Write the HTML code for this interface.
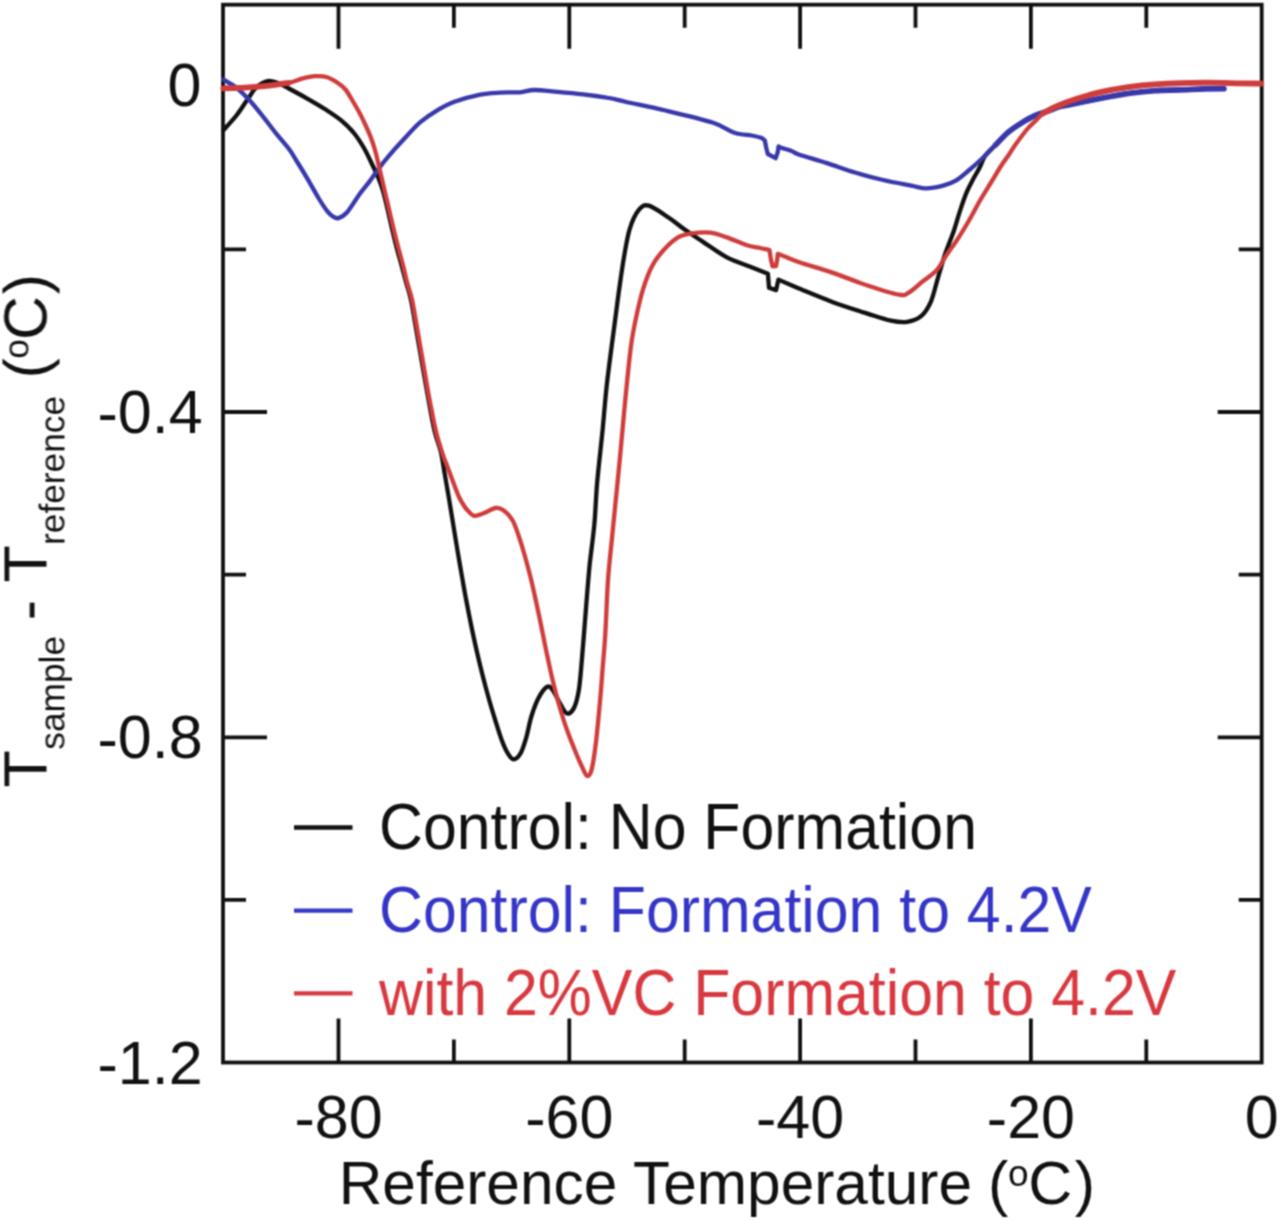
<!DOCTYPE html>
<html><head><meta charset="utf-8"><style>
html,body{margin:0;padding:0;background:#fff;}
svg{display:block;}

text{font-family:"Liberation Sans",sans-serif;}
</style></head><body>
<svg width="1280" height="1221" viewBox="0 0 1280 1221">
<defs><filter id="b" x="0" y="0" width="1280" height="1221" filterUnits="userSpaceOnUse" color-interpolation-filters="sRGB"><feConvolveMatrix order="3" kernelMatrix="1 2 1 2 4 2 1 2 1" divisor="16" edgeMode="duplicate"/></filter></defs>
<rect width="1280" height="1221" fill="#fff"/>
<g filter="url(#b)">

<g fill="none" stroke="#111" stroke-width="3.8">
<rect x="223.0" y="4.7" width="1038.7" height="1057.8"/>
<path d="M338.5,4.7V48.7 M338.5,1062.5V1018.5 M453.9,4.7V27.7 M453.9,1062.5V1039.5 M569.3,4.7V48.7 M569.3,1062.5V1018.5 M684.7,4.7V27.7 M684.7,1062.5V1039.5 M800.1,4.7V48.7 M800.1,1062.5V1018.5 M915.5,4.7V27.7 M915.5,1062.5V1039.5 M1030.9,4.7V48.7 M1030.9,1062.5V1018.5 M1146.3,4.7V27.7 M1146.3,1062.5V1039.5 M223.0,249.3H246.0 M1261.7,249.3H1238.7 M223.0,412.0H267.0 M1261.7,412.0H1217.7 M223.0,574.6H246.0 M1261.7,574.6H1238.7 M223.0,737.3H267.0 M1261.7,737.3H1217.7 M223.0,899.9H246.0 M1261.7,899.9H1238.7"/>
</g>
<g fill="none" stroke-linejoin="round" stroke-linecap="round" stroke-width="4.3">
<path stroke="#111" d="M223.3,130.3 C225.5,127.8 232.3,120.7 236.4,115.5 C240.5,110.3 244.5,103.7 247.8,99.1 C251.1,94.5 252.7,90.7 256.0,87.7 C259.3,84.7 263.9,81.9 267.5,81.1 C271.1,80.3 273.8,81.6 277.3,82.8 C280.9,84.0 283.9,85.9 288.8,88.5 C293.7,91.1 300.8,94.9 306.8,98.3 C312.8,101.7 319.1,105.3 324.8,109.0 C330.5,112.7 336.3,116.3 341.2,120.4 C346.1,124.5 350.5,128.8 354.3,133.5 C358.1,138.2 361.1,143.1 364.1,148.3 C367.1,153.5 369.9,159.8 372.3,164.7 C374.7,169.6 376.6,173.6 378.4,178.0 C380.2,182.4 381.5,185.8 383.0,191.0 C384.5,196.2 386.1,203.0 387.6,209.3 C389.1,215.6 390.5,222.2 392.1,229.0 C393.7,235.8 395.9,244.7 397.3,250.0 C398.7,255.3 398.8,255.2 400.3,260.6 C401.8,266.1 404.4,276.1 406.2,282.7 C408.0,289.3 409.2,291.6 411.0,300.0 C412.8,308.4 414.9,321.9 416.8,332.8 C418.7,343.7 420.6,354.7 422.5,365.6 C424.4,376.5 426.3,387.5 428.3,398.4 C430.3,409.3 432.5,422.2 434.6,431.1 C436.7,440.0 439.2,444.7 440.9,452.0 C442.6,459.3 443.5,467.0 444.9,475.0 C446.3,483.0 447.8,491.7 449.2,500.0 C450.6,508.3 451.9,516.7 453.3,525.0 C454.7,533.3 456.0,541.7 457.4,550.0 C458.8,558.3 460.2,566.7 461.7,575.0 C463.2,583.3 464.6,591.7 466.2,600.0 C467.8,608.3 469.4,616.7 471.1,625.0 C472.8,633.3 474.6,641.7 476.5,650.0 C478.4,658.3 480.4,666.7 482.5,675.0 C484.6,683.3 487.1,692.5 489.2,700.0 C491.3,707.5 493.1,713.3 495.2,720.0 C497.3,726.7 499.7,734.6 501.7,740.0 C503.7,745.4 505.4,749.3 507.3,752.5 C509.2,755.7 511.2,759.1 513.4,759.3 C515.6,759.5 518.3,757.2 520.4,753.7 C522.5,750.2 524.1,744.7 526.0,738.4 C527.9,732.1 529.4,722.7 531.5,716.0 C533.6,709.3 535.9,702.9 538.5,698.0 C541.1,693.1 544.6,688.3 546.9,686.9 C549.2,685.5 550.3,687.0 552.4,689.6 C554.5,692.2 557.3,698.5 559.4,702.2 C561.5,705.9 563.3,710.0 565.0,711.9 C566.7,713.8 567.8,714.2 569.4,713.3 C571.0,712.4 573.1,710.3 574.7,706.4 C576.3,702.5 577.7,697.0 578.9,689.6 C580.1,682.2 580.8,671.7 581.7,661.8 C582.6,651.9 583.4,640.6 584.3,630.0 C585.1,619.4 585.9,609.0 586.8,598.0 C587.7,587.0 588.5,576.5 589.7,564.3 C591.0,552.1 593.1,538.0 594.3,524.9 C595.5,511.8 596.0,496.5 596.9,485.6 C597.8,474.7 598.5,468.6 599.5,459.3 C600.5,450.0 601.4,442.1 602.6,430.0 C603.8,417.9 605.1,400.5 606.6,386.7 C608.1,372.9 610.0,358.9 611.5,347.4 C613.0,335.9 614.1,327.7 615.4,317.9 C616.7,308.1 617.9,298.2 619.3,288.4 C620.7,278.6 622.0,268.8 623.7,258.9 C625.4,249.0 627.1,237.5 629.6,229.3 C632.1,221.1 635.8,213.6 639.0,209.7 C642.2,205.8 644.0,204.4 648.9,205.7 C653.8,207.0 662.6,213.6 668.5,217.5 C674.4,221.4 678.5,225.2 684.3,229.3 C690.1,233.4 696.3,237.4 703.4,242.1 C710.5,246.8 719.1,253.2 726.9,257.3 C734.7,261.4 743.5,264.0 750.3,266.7 C757.1,269.4 765.0,272.5 767.9,273.7 L769.0,287.8 L776.1,290.1 L778.4,279.6 L797.2,287.8 C803.1,290.1 820.6,297.6 832.3,301.9 C844.0,306.2 857.7,310.5 867.5,313.6 C877.3,316.7 884.3,319.2 890.9,320.6 C897.5,322.0 902.2,322.6 907.3,321.8 C912.4,321.0 917.5,319.2 921.4,315.9 C925.3,312.6 928.1,308.1 930.8,301.9 C933.5,295.6 935.5,286.2 937.8,278.4 C940.1,270.6 942.2,262.8 944.8,255.0 C947.4,247.2 951.0,238.9 953.6,231.5 C956.2,224.1 957.9,217.2 960.1,210.6 C962.3,204.0 964.5,197.4 966.7,192.2 C968.9,186.9 971.0,183.2 973.2,179.1 C975.4,174.9 977.8,171.2 979.8,167.3 C981.8,163.5 982.4,159.7 985.0,156.0 C987.6,152.3 991.6,149.0 995.5,145.0 C999.4,141.0 1004.2,135.6 1008.6,131.9 C1013.0,128.2 1017.3,125.5 1021.7,122.8 C1026.1,120.1 1030.4,117.6 1034.8,115.6 C1039.2,113.6 1043.6,112.5 1048.0,111.0 C1052.4,109.5 1055.7,107.8 1061.0,106.4 C1066.3,105.0 1072.7,104.1 1080.0,102.6 C1087.3,101.1 1096.7,99.2 1105.0,97.6 C1113.3,96.0 1121.7,94.3 1130.0,93.2 C1138.3,92.1 1146.7,91.2 1155.0,90.7 C1163.3,90.2 1171.7,90.2 1180.0,89.9 C1188.3,89.6 1198.0,89.1 1205.0,88.9 C1212.0,88.7 1219.2,88.7 1222.0,88.7"/>
<path stroke="#3838ab" d="M223.3,79.5 C225.5,80.9 232.2,84.5 236.4,87.7 C240.6,91.0 244.3,94.6 248.4,99.0 C252.5,103.4 256.6,108.5 261.1,114.1 C265.6,119.6 270.5,126.5 275.2,132.3 C279.9,138.2 285.7,144.5 289.2,149.2 C292.7,153.9 293.2,155.6 296.3,160.5 C299.4,165.4 303.8,172.5 307.5,178.8 C311.2,185.1 315.5,193.1 318.8,198.5 C322.1,203.9 324.8,208.1 327.2,211.1 C329.6,214.1 331.1,215.3 333.0,216.5 C334.9,217.7 336.2,218.8 338.5,218.1 C340.8,217.4 343.4,216.5 346.9,212.5 C350.4,208.5 355.8,199.3 359.5,194.2 C363.2,189.0 365.9,186.3 369.4,181.6 C372.9,176.9 376.4,171.5 380.6,166.1 C384.8,160.7 390.0,154.6 394.7,149.2 C399.4,143.8 404.6,138.3 408.8,133.8 C413.0,129.3 415.3,126.3 420.0,122.4 C424.7,118.5 431.5,113.8 437.2,110.4 C442.9,107.0 447.2,104.4 454.4,101.8 C461.6,99.2 472.6,96.1 480.2,94.6 C487.8,93.1 493.4,93.0 500.0,92.6 C506.6,92.2 514.3,92.7 520.0,92.3 C525.7,91.9 527.8,90.1 534.0,90.0 C540.2,89.9 549.3,91.1 557.5,91.8 C565.7,92.5 574.7,93.3 583.3,94.3 C591.9,95.3 601.8,96.7 609.0,98.0 C616.2,99.3 616.9,99.9 626.3,102.0 C635.7,104.1 651.2,107.1 665.6,110.5 C680.0,113.9 701.0,118.8 712.5,122.5 C724.0,126.2 727.9,130.6 734.4,132.8 C740.9,135.0 747.2,134.7 751.7,135.5 C756.2,136.3 758.9,137.0 761.1,137.8 C763.3,138.6 764.2,140.1 764.8,140.5 L766.3,148.0 L767.8,154.0 L775.6,158.2 L777.8,152.0 L778.5,146.5 L782.2,148.1 C783.8,148.6 788.8,149.8 791.6,150.9 C794.4,152.0 792.9,152.5 798.8,154.5 C804.7,156.5 817.5,160.1 826.9,163.1 C836.3,166.1 845.6,169.7 855.0,172.5 C864.4,175.3 873.7,177.8 883.1,180.0 C892.5,182.2 904.1,184.2 911.3,185.6 C918.5,187.0 921.0,188.4 926.3,188.4 C931.6,188.4 938.1,187.0 943.1,185.7 C948.1,184.4 951.8,183.0 956.2,180.4 C960.6,177.8 964.9,173.7 969.3,170.0 C973.7,166.3 978.0,162.4 982.4,158.2 C986.8,154.0 991.1,149.4 995.5,145.0 C999.9,140.6 1004.2,135.6 1008.6,131.9 C1013.0,128.2 1017.3,125.5 1021.7,122.8 C1026.1,120.1 1030.4,117.6 1034.8,115.6 C1039.2,113.6 1043.6,112.5 1048.0,111.0 C1052.4,109.5 1055.7,107.8 1061.0,106.4 C1066.3,105.0 1072.7,104.1 1080.0,102.6 C1087.3,101.1 1096.7,99.2 1105.0,97.6 C1113.3,96.0 1121.7,94.3 1130.0,93.2 C1138.3,92.1 1146.7,91.2 1155.0,90.7 C1163.3,90.2 1171.7,90.2 1180.0,89.9 C1188.3,89.6 1197.7,89.1 1205.0,88.9 C1212.3,88.7 1220.8,88.7 1224.0,88.7"/>
<path stroke="#3838ab" stroke-width="5.6" d="M995.5,145.0 C997.7,142.8 1004.2,135.6 1008.6,131.9 C1013.0,128.2 1017.3,125.5 1021.7,122.8 C1026.1,120.1 1030.4,117.6 1034.8,115.6 C1039.2,113.6 1043.6,112.5 1048.0,111.0 C1052.4,109.5 1055.7,107.8 1061.0,106.4 C1066.3,105.0 1072.7,104.1 1080.0,102.6 C1087.3,101.1 1096.7,99.2 1105.0,97.6 C1113.3,96.0 1121.7,94.3 1130.0,93.2 C1138.3,92.1 1146.7,91.2 1155.0,90.7 C1163.3,90.2 1171.7,90.2 1180.0,89.9 C1188.3,89.6 1197.7,89.1 1205.0,88.9 C1212.3,88.7 1220.8,88.7 1224.0,88.7"/>
<path stroke="#cf3c3c" d="M223.3,88.3 C226.9,88.2 237.0,88.0 244.6,87.6 C252.2,87.1 261.7,86.4 269.1,85.6 C276.5,84.8 283.3,83.9 288.8,82.8 C294.3,81.7 297.5,79.8 301.9,78.7 C306.3,77.6 310.9,76.5 315.0,76.2 C319.1,75.9 322.8,75.9 326.5,77.0 C330.2,78.1 334.3,80.6 337.5,82.7 C340.7,84.8 343.2,86.8 345.5,89.5 C347.8,92.2 349.3,95.4 351.5,99.0 C353.7,102.6 356.2,106.8 358.5,111.0 C360.8,115.2 363.0,119.7 365.0,124.0 C367.0,128.3 368.8,132.3 370.5,136.6 C372.2,140.9 373.4,144.4 375.0,150.0 C376.6,155.6 378.2,163.4 379.8,170.0 C381.4,176.6 382.9,183.1 384.4,189.7 C385.9,196.2 387.5,202.8 389.0,209.3 C390.5,215.9 392.0,222.2 393.6,229.0 C395.2,235.8 397.3,243.8 398.9,250.0 C400.5,256.2 401.8,260.6 403.2,266.0 C404.6,271.4 405.7,277.0 407.2,282.7 C408.7,288.4 410.3,291.6 412.1,300.0 C413.9,308.4 416.0,321.9 417.9,332.8 C419.8,343.7 421.7,354.7 423.6,365.6 C425.5,376.5 427.2,387.5 429.3,398.4 C431.4,409.3 433.7,421.8 435.9,431.1 C438.1,440.4 440.8,448.4 442.6,454.0 C444.4,459.6 445.3,461.1 446.6,464.6 C447.9,468.1 449.2,471.4 450.5,475.0 C451.8,478.6 453.2,482.2 454.6,485.9 C456.0,489.6 457.5,493.8 459.0,497.0 C460.5,500.2 462.1,502.8 463.5,505.0 C464.9,507.2 465.9,508.7 467.7,510.5 C469.5,512.3 471.6,515.4 474.3,515.8 C477.0,516.2 480.6,514.3 484.1,513.0 C487.7,511.7 492.3,508.4 495.6,508.0 C498.9,507.6 501.0,508.5 503.8,510.5 C506.6,512.5 510.0,515.9 512.4,520.0 C514.8,524.1 516.4,529.2 518.4,535.0 C520.4,540.8 522.5,547.5 524.6,555.0 C526.7,562.5 529.2,571.7 531.2,580.0 C533.2,588.3 535.0,596.7 536.8,605.0 C538.6,613.3 540.3,621.7 542.0,630.0 C543.7,638.3 545.3,646.7 547.1,655.0 C548.9,663.3 550.6,671.7 552.6,680.0 C554.6,688.3 556.7,696.7 559.1,705.0 C561.5,713.3 564.0,721.7 567.0,730.0 C570.0,738.3 574.2,748.7 576.8,755.0 C579.4,761.3 580.9,764.5 582.6,768.0 C584.3,771.5 585.7,775.6 587.2,776.0 C588.7,776.4 590.0,775.5 591.4,770.4 C592.8,765.3 594.2,756.4 595.6,745.3 C597.0,734.2 598.6,716.4 599.8,703.6 C601.0,690.8 601.7,680.3 602.6,668.7 C603.5,657.1 604.4,648.7 605.3,633.9 C606.2,619.1 606.9,596.0 608.0,580.0 C609.1,564.0 610.7,551.5 612.0,538.0 C613.3,524.5 614.6,511.8 615.9,498.7 C617.2,485.6 618.7,470.8 619.8,459.3 C620.9,447.9 621.5,440.4 622.5,430.0 C623.5,419.6 624.2,410.4 625.6,396.6 C627.0,382.8 629.1,360.5 630.8,347.4 C632.5,334.3 633.9,327.7 636.0,317.9 C638.1,308.1 640.5,297.2 643.3,288.4 C646.1,279.5 649.2,271.4 652.8,264.8 C656.3,258.2 660.3,253.6 664.6,249.0 C668.9,244.4 673.8,239.8 678.4,237.2 C683.0,234.6 686.8,234.1 692.1,233.3 C697.5,232.6 704.7,232.0 710.5,232.7 C716.3,233.4 720.9,235.3 726.9,237.4 C732.9,239.5 740.7,243.2 746.2,245.0 C751.8,246.8 756.1,247.2 760.0,248.0 C763.9,248.8 767.9,249.7 769.5,250.0 L770.8,259.0 L772.5,266.3 L776.0,266.0 L777.3,259.0 L777.8,253.8 L786.0,257.0 C788.3,257.9 792.3,259.9 800.0,262.5 C807.7,265.1 821.0,268.8 832.3,272.6 C843.5,276.4 856.4,281.8 867.5,285.5 C878.6,289.2 892.1,293.5 899.0,294.7 C905.9,295.9 904.8,294.8 908.7,292.6 C912.7,290.4 918.1,285.1 922.7,281.4 C927.4,277.7 932.8,274.4 936.6,270.3 C940.4,266.2 942.0,261.7 945.5,256.5 C949.0,251.3 953.5,245.4 957.5,239.3 C961.5,233.2 965.5,226.5 969.3,220.0 C973.0,213.5 976.4,206.8 980.0,200.5 C983.6,194.2 987.5,188.2 991.0,182.5 C994.5,176.8 998.2,170.4 1001.0,166.0 C1003.8,161.6 1005.6,159.5 1008.0,156.0 C1010.4,152.5 1012.0,149.5 1015.2,145.0 C1018.4,140.5 1024.0,133.0 1027.3,129.0 C1030.6,125.0 1032.6,123.8 1035.2,121.2 C1037.8,118.7 1039.8,115.7 1043.0,113.4 C1046.2,111.1 1050.2,109.3 1054.7,107.2 C1059.2,105.1 1065.1,102.9 1070.3,101.0 C1075.5,99.1 1080.2,97.6 1086.0,96.0 C1091.8,94.4 1097.7,92.8 1105.0,91.2 C1112.3,89.7 1121.7,88.0 1130.0,86.9 C1138.3,85.8 1146.7,85.0 1155.0,84.4 C1163.3,83.8 1171.7,83.4 1180.0,83.1 C1188.3,82.8 1195.0,82.6 1205.0,82.6 C1215.0,82.6 1230.6,83.1 1240.0,83.3 C1249.4,83.5 1257.8,83.5 1261.3,83.6"/>
<path stroke="#cf3c3c" stroke-width="5.8" d="M223.3,88.3 C226.9,88.2 237.0,88.0 244.6,87.6 C252.2,87.1 261.7,86.4 269.1,85.6 C276.5,84.8 285.5,83.3 288.8,82.8 M1043.0,113.4 C1045.0,112.4 1050.2,109.3 1054.7,107.2 C1059.2,105.1 1065.1,102.9 1070.3,101.0 C1075.5,99.1 1080.2,97.6 1086.0,96.0 C1091.8,94.4 1097.7,92.8 1105.0,91.2 C1112.3,89.7 1121.7,88.0 1130.0,86.9 C1138.3,85.8 1146.7,85.0 1155.0,84.4 C1163.3,83.8 1171.7,83.4 1180.0,83.1 C1188.3,82.8 1195.0,82.6 1205.0,82.6 C1215.0,82.6 1230.6,83.1 1240.0,83.3 C1249.4,83.5 1257.8,83.5 1261.3,83.6"/>
</g>
<g font-size="61" fill="#111"><text x="167.5" y="106.2">0</text><text x="97.5" y="433.0"><tspan dy="1.2">-</tspan><tspan dy="-1.2">0.4</tspan></text><text x="97.5" y="758.3"><tspan dy="1.2">-</tspan><tspan dy="-1.2">0.8</tspan></text><text x="97.5" y="1083.5"><tspan dy="1.2">-</tspan><tspan dy="-1.2">1.2</tspan></text><text x="338.5" y="1138" text-anchor="middle"><tspan dy="1.2">-</tspan><tspan dy="-1.2">80</tspan></text><text x="569.3" y="1138" text-anchor="middle"><tspan dy="1.2">-</tspan><tspan dy="-1.2">60</tspan></text><text x="800.1" y="1138" text-anchor="middle"><tspan dy="1.2">-</tspan><tspan dy="-1.2">40</tspan></text><text x="1030.9" y="1138" text-anchor="middle"><tspan dy="1.2">-</tspan><tspan dy="-1.2">20</tspan></text><text x="1261.7" y="1138" text-anchor="middle">0</text></g>
<g font-size="61" fill="#111">
<text x="338.7" y="1203.5" font-size="60.4">Reference Temperature</text><text x="988.1" y="1203.5">(</text><text x="1008" y="1185.5" font-size="37">o</text><text x="1028.3" y="1203.5">C</text><text x="1074.8" y="1203.5">)</text><g transform="translate(46.5,0) rotate(-90)"><text x="-787.4" y="0.0">T</text><text x="-749.7" y="17.5" font-size="35.3">sample</text><text x="-620.2" y="2.2">-</text><text x="-582.6" y="0.0">T</text><text x="-545.0" y="17.5" font-size="35.3">reference</text><text x="-378.4" y="0.0">(</text><text x="-358.7" y="-17.6" font-size="35.3">o</text><text x="-340.1" y="0.0">C</text><text x="-294.2" y="0.0">)</text></g>
</g>
<g stroke-width="4.3" fill="none">
<path stroke="#111" d="M294,827.5H352.5"/>
<path stroke="#3538c8" d="M294,910.6H352.5"/>
<path stroke="#d63a40" d="M294,993.4H352.5"/>
</g>
<g font-size="60.8">
<text transform="translate(379,849.2) scale(1,1.065)" fill="#111">Control: No Formation</text>
<text transform="translate(379,932.3) scale(1,1.065)" fill="#3535c8">Control: Formation to 4.2V</text>
<text transform="translate(379,1014.7) scale(1,1.065)" fill="#d8383f">with 2%VC Formation to 4.2V</text>
</g>
</g>
</svg>
</body></html>
